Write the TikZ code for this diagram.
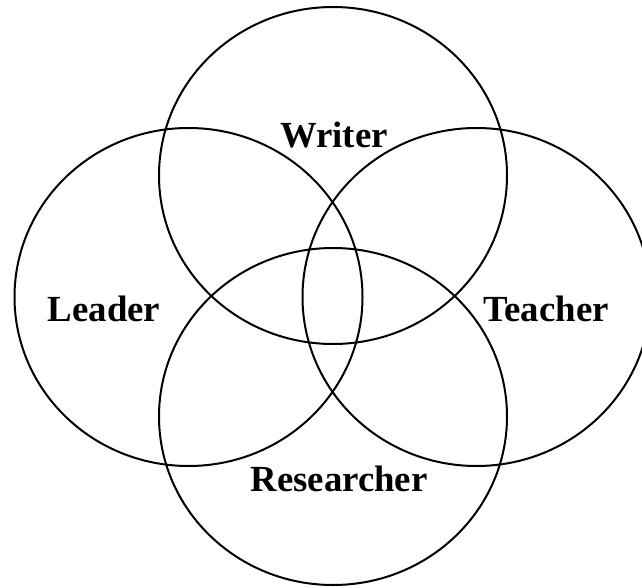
\documentclass[tikz,border=0pt]{standalone}
\usepackage{fontspec}
\setmainfont{Liberation Serif}
\begin{document}
\begin{tikzpicture}[x=0.75pt,y=-0.75pt,
  ring/.style={draw=black,line width=1.5pt},
  lbl/.style={anchor=base,inner sep=0pt,font=\fontsize{27.6}{30}\selectfont\bfseries}]
\useasboundingbox (0,0) rectangle (642,588);
\clip (0,0) rectangle (642,588);
\draw[ring] (333,175.5) ellipse [x radius=174, y radius=168.5];
\draw[ring] (188.5,297) ellipse [x radius=174, y radius=169];
\draw[ring] (476.5,297) ellipse [x radius=174, y radius=169];
\draw[ring] (333,416.5) ellipse [x radius=174, y radius=168.5];
\node[lbl] (writer) at (334,148) {Writer};
\node[lbl] (leader) at (104,321) {Leader};
\node[lbl] (teacher) at (546,321) {Teacher};
\node[lbl] (researcher) at (339,491) {Researcher};
\end{tikzpicture}
\end{document}
